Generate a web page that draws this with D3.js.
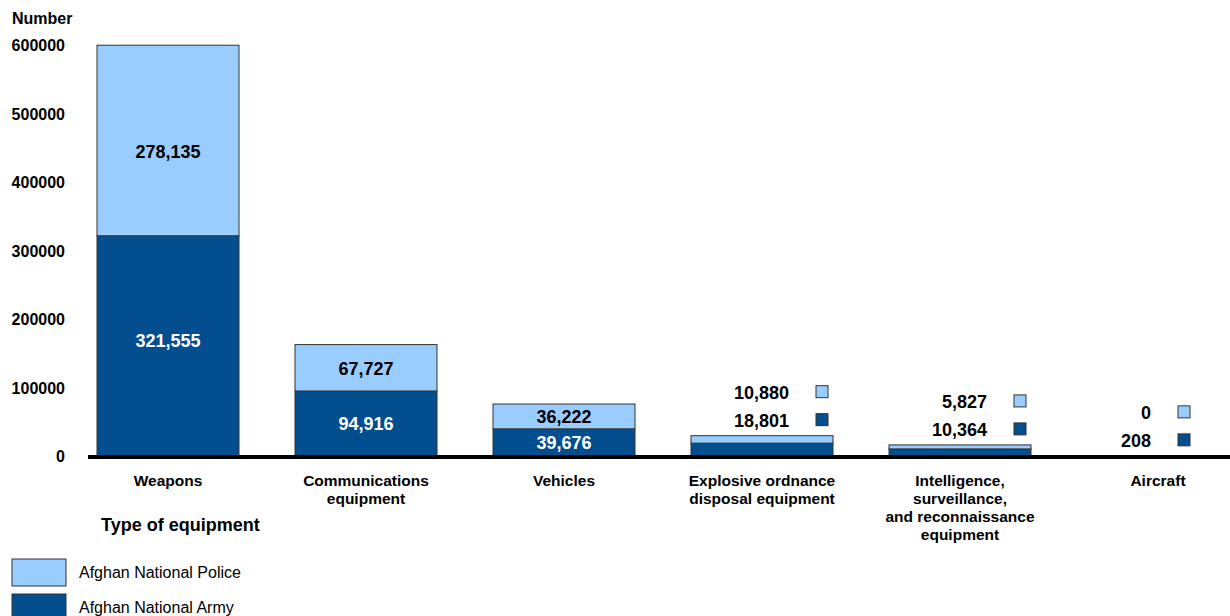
<!DOCTYPE html>
<html><head><meta charset="utf-8">
<script src="https://cdn.jsdelivr.net/npm/d3@7"></script>
<style>body{margin:0;background:#fff;}svg{display:block;font-family:"Liberation Sans",Arial,sans-serif;}</style>
</head><body>
<svg id="c" width="1230" height="616"></svg>
<script>
const categories = [["Weapons"],["Communications","equipment"],["Vehicles"],["Explosive ordnance","disposal equipment"],["Intelligence,","surveillance,","and reconnaissance","equipment"],["Aircraft"]];
const army = [321555, 94916, 39676, 18801, 10364, 208];
const police = [278135, 67727, 36222, 10880, 5827, 0];
const yTicks = [0, 100000, 200000, 300000, 400000, 500000, 600000];
const seriesNames = ["Afghan National Police", "Afghan National Army"];
const colors = {police: "#99CCFF", army: "#034E8F"};

const svg = d3.select("#c");
const y = d3.scaleLinear().domain([0, 600000]).range([456, 45]);
const x = d3.scaleBand().domain(d3.range(categories.length)).range([69, 1257])
  .paddingInner(56/198).paddingOuter(28/198);
const fmt = d3.format(",");

svg.append("g").selectAll("text").data(yTicks).join("text")
  .attr("x", 65).attr("y", d => y(d) + 6).attr("text-anchor", "end")
  .attr("font-size", 16).attr("font-weight", "bold").text(d => d);
svg.append("text").attr("x", 12).attr("y", 24).attr("font-size", 16).attr("font-weight", "bold").text("Number");

const bw = x.bandwidth();
categories.forEach((c, i) => {
  const cx = x(i) + bw / 2;
  const a = army[i], p = police[i];
  svg.append("rect").attr("x", x(i)).attr("y", y(a)).attr("width", bw).attr("height", y(0) - y(a))
    .attr("fill", colors.army).attr("stroke", "#333").attr("stroke-width", 1);
  if (p > 0) svg.append("rect").attr("x", x(i)).attr("y", y(a + p)).attr("width", bw).attr("height", y(a) - y(a + p))
    .attr("fill", colors.police).attr("stroke", "#333").attr("stroke-width", 1);
  const big = (y(0) - y(a + p)) > 40;
  if (big) {
    svg.append("text").attr("x", cx).attr("y", (y(0) + y(a)) / 2 + 7 - (i === 0 ? 6 : 0)).attr("text-anchor", "middle")
      .attr("font-size", 18).attr("font-weight", "bold").attr("fill", "#fff").text(fmt(a));
    svg.append("text").attr("x", cx).attr("y", (y(a) + y(a + p)) / 2 + 7 + (i === 0 ? 11 : 0)).attr("text-anchor", "middle")
      .attr("font-size", 18).attr("font-weight", "bold").attr("fill", "#000").text(fmt(p));
  } else {
    const top = y(a + p);
    const sx = Math.min(cx + 60, 1184);
    [[p, colors.police, top - 44], [a, colors.army, top - 16]].forEach(([v, col, yy]) => {
      svg.append("rect").attr("x", sx - 6).attr("y", yy - 6).attr("width", 12).attr("height", 12)
        .attr("fill", col).attr("stroke", "#333").attr("stroke-width", 1);
      svg.append("text").attr("x", sx - 33).attr("y", yy + 7).attr("text-anchor", "end")
        .attr("font-size", 18).attr("font-weight", "bold").text(fmt(v));
    });
  }
  const t = svg.append("text").attr("text-anchor", "middle").attr("font-size", 15.5).attr("font-weight", "bold");
  c.forEach((line, k) => t.append("tspan").attr("x", cx).attr("y", 486 + k * 18).text(line));
});

svg.append("line").attr("x1", 88).attr("x2", 1230).attr("y1", y(0) + 1).attr("y2", y(0) + 1)
  .attr("stroke", "#000").attr("stroke-width", 4);

svg.append("text").attr("x", 101).attr("y", 531).attr("font-size", 18).attr("font-weight", "bold").text("Type of equipment");

const lg = svg.append("g");
[[colors.police, 559], [colors.army, 594]].forEach(([col, yy], k) => {
  lg.append("rect").attr("x", 12).attr("y", yy).attr("width", 54).attr("height", 27).attr("fill", col).attr("stroke", "#333").attr("stroke-width", 1);
  lg.append("text").attr("x", 79).attr("y", yy + 19).attr("font-size", 16).text(seriesNames[k]);
});
</script>
</body></html>
